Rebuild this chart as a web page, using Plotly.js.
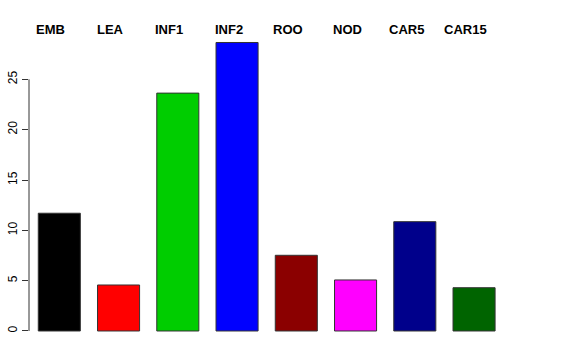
<!DOCTYPE html>
<html>
<head>
<meta charset="utf-8">
<script src="https://cdn.plot.ly/plotly-3.0.1.min.js"></script>
<style>html,body{margin:0;padding:0;background:#fff;}#chart{width:576px;height:360px;}</style>
</head>
<body>
<div id="chart"></div>
<script>
const categories = ["EMB", "LEA", "INF1", "INF2", "ROO", "NOD", "CAR5", "CAR15"];
const values = [11.7, 4.57, 23.63, 28.66, 7.52, 5.07, 10.86, 4.3];
const colors = ["#000000", "#FF0000", "#00CD00", "#0000FF", "#8B0000", "#FF00FF", "#00008B", "#006400"];
const yTicks = [0, 5, 10, 15, 20, 25];

const positions = categories.map((c, i) => i);

const trace = {
  type: "bar",
  x: positions,
  y: values,
  width: 0.71,
  marker: {color: colors, line: {color: "#333333", width: 1}},
  hoverinfo: "skip"
};

const annotations = categories.map((c, i) => ({
  x: i, y: 29.97, xref: "x", yref: "y",
  text: "<b>" + c + "</b>", showarrow: false,
  xanchor: "center", yanchor: "middle", xshift: -8.5,
  font: {family: "Liberation Sans, Arial, sans-serif", size: 13, color: "#000"}
}));

const layout = {
  width: 576, height: 360,
  margin: {l: 29, r: 29, t: 29.2, b: 28},
  paper_bgcolor: "#fff", plot_bgcolor: "#fff",
  showlegend: false,
  bargap: 0,
  xaxis: {range: [-0.5114, -0.5114 + 518/59.25], showgrid: false, zeroline: false,
          showline: false, showticklabels: false, ticks: ""},
  yaxis: {range: [-0.1, 30], showgrid: false, zeroline: false, showline: false,
          tickmode: "array", tickvals: yTicks, ticktext: yTicks.map(String),
          ticks: "outside", ticklen: 6, tickwidth: 1, tickcolor: "#333",
          tickangle: -90,
          tickfont: {family: "Liberation Sans, Arial, sans-serif", size: 12, color: "#000"}},
  shapes: [{type: "line", xref: "paper", yref: "y", x0: 0, x1: 0, y0: yTicks[0], y1: yTicks[yTicks.length-1],
            line: {color: "#333", width: 1}}],
  annotations: annotations
};

Plotly.newPlot("chart", [trace], layout, {displayModeBar: false, staticPlot: true});
</script>
</body>
</html>
